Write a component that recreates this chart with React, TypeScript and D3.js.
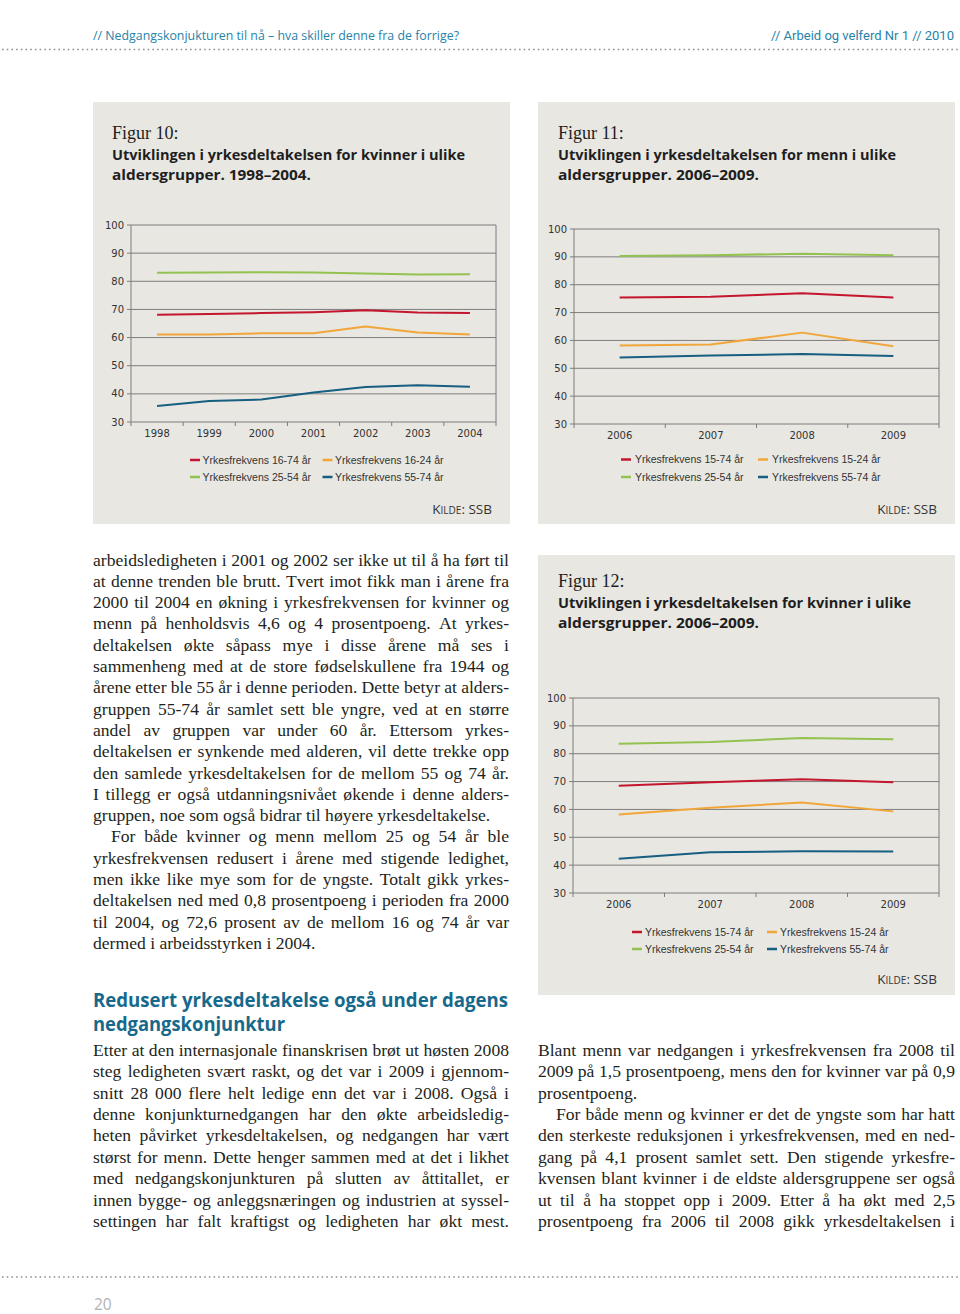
import React from 'react';
import * as d3 from 'd3';

// ---------- DATA ----------
const yTicks = [30, 40, 50, 60, 70, 80, 90, 100];

const years10 = ['1998', '1999', '2000', '2001', '2002', '2003', '2004'];
const fig10Total = [68.1, 68.4, 68.7, 69.0, 69.7, 68.9, 68.7];
const fig10Young = [61.1, 61.1, 61.5, 61.5, 63.9, 61.8, 61.1];
const fig10Prime = [83.0, 83.1, 83.2, 83.1, 82.8, 82.4, 82.5];
const fig10Old = [35.7, 37.5, 38.0, 40.5, 42.4, 43.1, 42.5];

const years11 = ['2006', '2007', '2008', '2009'];
const fig11Total = [75.4, 75.7, 76.9, 75.4];
const fig11Young = [58.2, 58.5, 62.8, 57.9];
const fig11Prime = [90.3, 90.6, 91.1, 90.6];
const fig11Old = [53.9, 54.6, 55.1, 54.4];

const years12 = ['2006', '2007', '2008', '2009'];
const fig12Total = [68.5, 69.8, 70.8, 69.8];
const fig12Young = [58.2, 60.6, 62.5, 59.3];
const fig12Prime = [83.6, 84.2, 85.6, 85.2];
const fig12Old = [42.3, 44.6, 45.0, 44.9];

const legend10 = ['Yrkesfrekvens 16-74 år', 'Yrkesfrekvens 16-24 år', 'Yrkesfrekvens 25-54 år', 'Yrkesfrekvens 55-74 år'];
const legend11 = ['Yrkesfrekvens 15-74 år', 'Yrkesfrekvens 15-24 år', 'Yrkesfrekvens 25-54 år', 'Yrkesfrekvens 55-74 år'];
const seriesColors = ['#c4162f', '#f2a63a', '#93c251', '#165f80'];

// ---------- TEXT ----------
const leftLines1 = [
  { t: 'arbeidsledigheten i 2001 og 2002 ser ikke ut til å ha ført til', j: true },
  { t: 'at denne trenden ble brutt. Tvert imot fikk man i årene fra', j: true },
  { t: '2000 til 2004 en økning i yrkesfrekvensen for kvinner og', j: true },
  { t: 'menn på henholdsvis 4,6 og 4 prosentpoeng. At yrkes-', j: true },
  { t: 'deltakelsen økte såpass mye i disse årene må ses i', j: true },
  { t: 'sammenheng med at de store fødselskullene fra 1944 og', j: true },
  { t: 'årene etter ble 55 år i denne perioden. Dette betyr at alders-', j: true },
  { t: 'gruppen 55-74 år samlet sett ble yngre, ved at en større', j: true },
  { t: 'andel av gruppen var under 60 år. Ettersom yrkes-', j: true },
  { t: 'deltakelsen er synkende med alderen, vil dette trekke opp', j: true },
  { t: 'den samlede yrkesdeltakelsen for de mellom 55 og 74 år.', j: true },
  { t: 'I tillegg er også utdanningsnivået økende i denne alders-', j: true },
  { t: 'gruppen, noe som også bidrar til høyere yrkesdeltakelse.', j: false },
  { t: 'For både kvinner og menn mellom 25 og 54 år ble', j: true, ind: true },
  { t: 'yrkesfrekvensen redusert i årene med stigende ledighet,', j: true },
  { t: 'men ikke like mye som for de yngste. Totalt gikk yrkes-', j: true },
  { t: 'deltakelsen ned med 0,8 prosentpoeng i perioden fra 2000', j: true },
  { t: 'til 2004, og 72,6 prosent av de mellom 16 og 74 år var', j: true },
  { t: 'dermed i arbeidsstyrken i 2004.', j: false },
];

const leftLines2 = [
  { t: 'Etter at den internasjonale finanskrisen brøt ut høsten 2008', j: true },
  { t: 'steg ledigheten svært raskt, og det var i 2009 i gjennom-', j: true },
  { t: 'snitt 28 000 flere helt ledige enn det var i 2008. Også i', j: true },
  { t: 'denne konjunkturnedgangen har den økte arbeidsledig-', j: true },
  { t: 'heten påvirket yrkesdeltakelsen, og nedgangen har vært', j: true },
  { t: 'størst for menn. Dette henger sammen med at det i likhet', j: true },
  { t: 'med nedgangskonjunkturen på slutten av åttitallet, er', j: true },
  { t: 'innen bygge- og anleggsnæringen og industrien at syssel-', j: true },
  { t: 'settingen har falt kraftigst og ledigheten har økt mest.', j: true },
];

const rightLines = [
  { t: 'Blant menn var nedgangen i yrkesfrekvensen fra 2008 til', j: true },
  { t: '2009 på 1,5 prosentpoeng, mens den for kvinner var på 0,9', j: true },
  { t: 'prosentpoeng.', j: false },
  { t: 'For både menn og kvinner er det de yngste som har hatt', j: true, ind: true },
  { t: 'den sterkeste reduksjonen i yrkesfrekvensen, med en ned-', j: true },
  { t: 'gang på 4,1 prosent samlet sett. Den stigende yrkesfre-', j: true },
  { t: 'kvensen blant kvinner i de eldste aldersgruppene ser også', j: true },
  { t: 'ut til å ha stoppet opp i 2009. Etter å ha økt med 2,5', j: true },
  { t: 'prosentpoeng fra 2006 til 2008 gikk yrkesdeltakelsen i', j: true },
];

// ---------- HELPERS ----------
const SERIF = "'Liberation Serif', 'Times New Roman', serif";
const SANS = "'Open Sans', 'Noto Sans', sans-serif";
const BODY_SIZE = 17.6;
let _ctx: CanvasRenderingContext2D | null = null;
function measure(s: string, font: string): number {
  if (!_ctx) {
    const c = document.createElement('canvas');
    _ctx = c.getContext('2d');
  }
  if (!_ctx) return s.length * 8;
  _ctx.font = font;
  return _ctx.measureText(s).width;
}

function TextBlock({ x, y0, lh, width, lines }: { x: number; y0: number; lh: number; width: number; lines: { t: string; j: boolean; ind?: boolean }[] }) {
  const font = `${BODY_SIZE}px 'Liberation Serif'`;
  return (
    <g fontFamily={SERIF} fontSize={BODY_SIZE} fill="#231f20">
      {lines.map((ln, i) => {
        const y = y0 + i * lh;
        const lx = x + (ln.ind ? 18 : 0);
        const w = width - (ln.ind ? 18 : 0);
        if (!ln.j) {
          return (
            <text key={i} x={lx} y={y}>
              {ln.t}
            </text>
          );
        }
        const words = ln.t.split(' ');
        const ws = words.map((wd) => measure(wd, font));
        const sum = ws.reduce((a, b) => a + b, 0);
        const gap = words.length > 1 ? (w - sum) / (words.length - 1) : 0;
        let cx = lx;
        const pos = ws.map((ww) => {
          const p = cx;
          cx += ww + gap;
          return p;
        });
        return (
          <text key={i} y={y}>
            {words.map((wd, k) => (
              <tspan key={k} x={pos[k]}>
                {wd}
              </tspan>
            ))}
          </text>
        );
      })}
    </g>
  );
}

type ChartProps = {
  left: number;
  right: number;
  top: number;
  bottom: number;
  cats: string[];
  series: number[][];
  labels: string[];
  legCols: number[];
  legRows: number[];
  legOff: number;
};

function Chart({ left, right, top, bottom, cats, series, labels, legCols, legRows, legOff }: ChartProps) {
  const x = d3.scaleBand<string>().domain(cats).range([left, right]).padding(0);
  const y = d3.scaleLinear().domain([30, 100]).range([bottom, top]);
  const cx = (c: string) => (x(c) as number) + x.bandwidth() / 2;
  const line = d3
    .line<number>()
    .x((_, i) => cx(cats[i]))
    .y((d) => y(d));
  const edges = d3.range(cats.length + 1).map((i) => left + i * x.bandwidth());
  const gridColor = '#7d7d7d';
  const tickFont = "'DejaVu Sans', Verdana, sans-serif";
  return (
    <g>
      {yTicks.map((t) => (
        <g key={t}>
          <line x1={left - 4} x2={right} y1={y(t)} y2={y(t)} stroke={gridColor} strokeWidth={1} />
          <text x={left - 7} y={y(t) + 3.5} textAnchor="end" fontFamily={tickFont} fontSize={10} fill="#333">
            {t}
          </text>
        </g>
      ))}
      <line x1={left} x2={left} y1={top} y2={bottom} stroke={gridColor} strokeWidth={1} />
      <line x1={right} x2={right} y1={top} y2={bottom} stroke={gridColor} strokeWidth={1} />
      {edges.map((e, i) => (
        <line key={i} x1={e} x2={e} y1={bottom} y2={bottom + 4} stroke={gridColor} strokeWidth={1} />
      ))}
      {cats.map((c) => (
        <text key={c} x={cx(c)} y={bottom + 15} textAnchor="middle" fontFamily={tickFont} fontSize={10} fill="#333">
          {c}
        </text>
      ))}
      {series.map((s, i) => (
        <path key={i} d={line(s) || ''} fill="none" stroke={seriesColors[i]} strokeWidth={2} strokeLinejoin="round" />
      ))}
      {labels.map((lb, i) => {
        const lx = legCols[i % 2];
        const ly = legRows[Math.floor(i / 2)];
        return (
          <g key={lb + i}>
            <line x1={lx} x2={lx + 10} y1={ly} y2={ly} stroke={seriesColors[i]} strokeWidth={2.5} />
            <text x={lx + legOff} y={ly + 3.8} fontFamily="'Liberation Sans', Arial, sans-serif" fontSize={10.5} fill="#333">
              {lb}
            </text>
          </g>
        );
      })}
    </g>
  );
}

function Kilde({ xEnd, y }: { xEnd: number; y: number }) {
  return (
    <text x={xEnd} y={y} textAnchor="end" fontFamily={SANS} fill="#333" fontSize={13.5}>
      K<tspan fontSize={10}>ILDE</tspan>: SSB
    </text>
  );
}

function FigTitle({ x, y, fig, l1, l1w, l2, l2w }: { x: number; y: number; fig: string; l1: string; l1w: number; l2: string; l2w: number }) {
  return (
    <g fill="#1e1e1e">
      <text x={x} y={y} fontFamily={SERIF} fontSize={18}>
        {fig}
      </text>
      <text x={x} y={y + 20.5} fontFamily={SANS} fontWeight={700} fontSize={15} textLength={l1w} lengthAdjust="spacingAndGlyphs">
        {l1}
      </text>
      <text x={x} y={y + 41} fontFamily={SANS} fontWeight={700} fontSize={15} textLength={l2w} lengthAdjust="spacingAndGlyphs">
        {l2}
      </text>
    </g>
  );
}

export default function App() {
  const panelFill = '#e8e7e2';
  const teal = '#2883a8';
  const headTeal = '#17698c';
  return (
    <div style={{ position: 'absolute', left: 0, top: 0, width: 960, height: 1314, background: '#fff' }}>
      <svg width={960} height={1314} viewBox="0 0 960 1314" style={{ display: 'block' }}>
        <rect x={0} y={0} width={960} height={1314} fill="#fff" />
        {/* header */}
        <text x={93} y={40} fontFamily={SANS} fontSize={13.5} fill={teal} textLength={366} lengthAdjust="spacingAndGlyphs">
          // Nedgangskonjukturen til nå – hva skiller denne fra de forrige?
        </text>
        <text x={954} y={40} textAnchor="end" fontFamily="Roboto, 'Open Sans', sans-serif" fontSize={13} fill={teal} textLength={183} lengthAdjust="spacingAndGlyphs">
          // Arbeid og velferd Nr 1 // 2010
        </text>
        <line x1={2} x2={960} y1={49.5} y2={49.5} stroke="#8f8f8f" strokeWidth={1.6} strokeDasharray="1.6 3.1" />

        {/* panels */}
        <rect x={93} y={102} width={417} height={422} fill={panelFill} />
        <rect x={538} y={102} width={417} height={422} fill={panelFill} />
        <rect x={538} y={555} width={417} height={440} fill={panelFill} />

        <FigTitle x={112} y={139} fig="Figur 10:" l1="Utviklingen i yrkesdeltakelsen for kvinner i ulike" l1w={353} l2="aldersgrupper. 1998–2004." l2w={199} />
        <FigTitle x={558} y={139} fig="Figur 11:" l1="Utviklingen i yrkesdeltakelsen for menn i ulike" l1w={338} l2="aldersgrupper. 2006–2009." l2w={201} />
        <FigTitle x={558} y={587} fig="Figur 12:" l1="Utviklingen i yrkesdeltakelsen for kvinner i ulike" l1w={353} l2="aldersgrupper. 2006–2009." l2w={201} />

        <Chart left={131} right={496} top={225} bottom={422} cats={years10} series={[fig10Total, fig10Young, fig10Prime, fig10Old]} labels={legend10} legCols={[190, 322.5]} legRows={[460, 477]} legOff={12.5} />
        <Chart left={574} right={939} top={229} bottom={424} cats={years11} series={[fig11Total, fig11Young, fig11Prime, fig11Old]} labels={legend11} legCols={[621, 758]} legRows={[459.5, 477]} legOff={14} />
        <Chart left={573} right={939} top={698} bottom={893} cats={years12} series={[fig12Total, fig12Young, fig12Prime, fig12Old]} labels={legend11} legCols={[632, 767]} legRows={[932, 949]} legOff={13} />

        <Kilde xEnd={492} y={514} />
        <Kilde xEnd={937} y={514} />
        <Kilde xEnd={937} y={984} />

        {/* body text */}
        <TextBlock x={93} y0={565.5} lh={21.3} width={416} lines={leftLines1} />
        <text x={93} y={1007} fontFamily={SANS} fontWeight={700} fontSize={19} fill={headTeal} textLength={415} lengthAdjust="spacingAndGlyphs">
          Redusert yrkesdeltakelse også under dagens
        </text>
        <text x={93} y={1031} fontFamily={SANS} fontWeight={700} fontSize={19} fill={headTeal} textLength={192} lengthAdjust="spacingAndGlyphs">
          nedgangskonjunktur
        </text>
        <TextBlock x={93} y0={1055.7} lh={21.4} width={416} lines={leftLines2} />
        <TextBlock x={538} y0={1055.7} lh={21.4} width={417} lines={rightLines} />

        {/* footer */}
        <line x1={2} x2={960} y1={1277} y2={1277} stroke="#8f8f8f" strokeWidth={1.6} strokeDasharray="1.6 3.1" />
        <text x={94} y={1310} fontFamily={SANS} fontSize={15.5} fill="#b3b3b3">
          20
        </text>
      </svg>
    </div>
  );
}
